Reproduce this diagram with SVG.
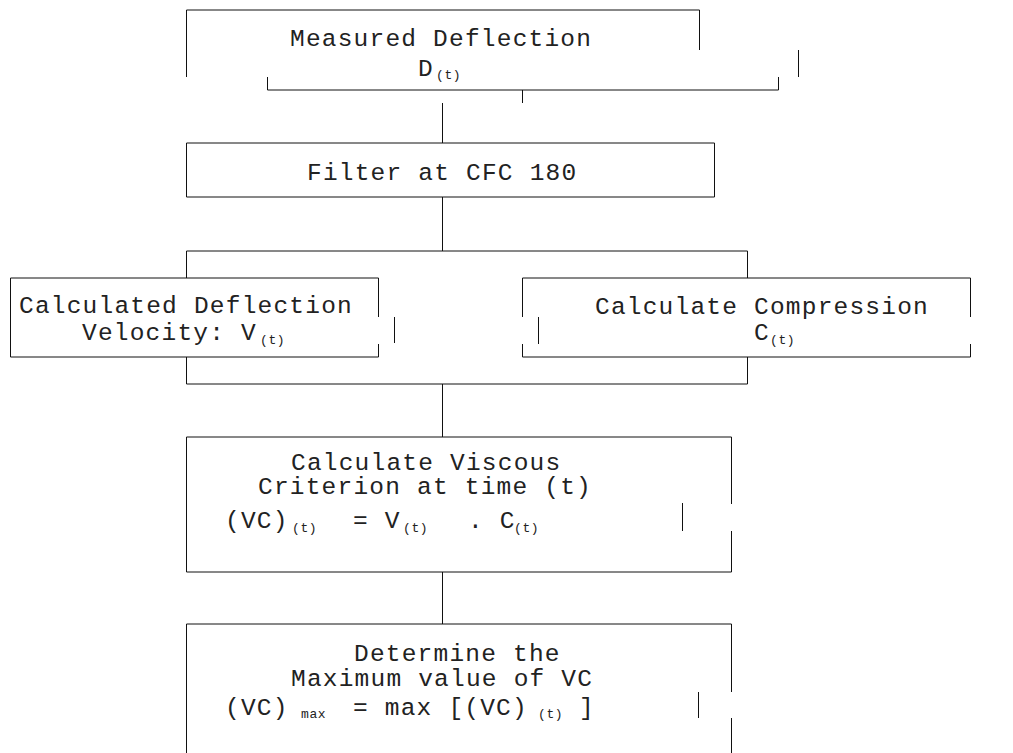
<svg xmlns="http://www.w3.org/2000/svg" width="1013" height="753" viewBox="0 0 1013 753">
  <style>
    .ln { fill: none; stroke: #111; stroke-width: 1; }
    /* 0.6em advance + spacing keeps a 15.9px monospace pitch */
    .t { font-family: "Liberation Mono", "Courier New", monospace; font-size: 24.5px; letter-spacing: 1.2px; fill: #222; }
    .s { font-family: "Liberation Mono", "Courier New", monospace; font-size: 13px; letter-spacing: 0.6px; fill: #222; }
  </style>
  <rect width="1013" height="753" fill="#fff"/>

  <!-- connectors: trunk, split and merge -->
  <g id="connectors" class="ln">
    <path d="M522.5 90 V103"/>
    <path d="M442.5 103 V143"/>
    <path d="M442.5 197 V251"/>
    <path d="M186.5 278 V251 H747.5 V278"/>
    <path d="M186.5 357 V384 H747.5 V357"/>
    <path d="M442.5 384 V437"/>
    <path d="M442.5 572 V624"/>
  </g>

  <g id="measured-deflection">
    <path class="ln" d="M186.5 77 V10 H699.5 V50"/>
    <path class="ln" d="M798.5 50 V77"/>
    <path class="ln" d="M267.5 77 V90 H778.5 V77"/>
    <text class="t" x="290" y="46">Measured Deflection</text>
    <text class="t" x="418" y="76">D</text>
    <text class="s" x="436" y="79">(t)</text>
  </g>

  <g id="filter">
    <path class="ln" d="M186.5 143 H714.5 V197 H186.5 Z"/>
    <text class="t" x="307" y="180">Filter at CFC 180</text>
  </g>

  <g id="deflection-velocity">
    <path class="ln" d="M378.5 317 V278 H10.5 V357 H378.5 V344"/>
    <path class="ln" d="M394.5 317 V343"/>
    <text class="t" x="19" y="313">Calculated Deflection</text>
    <text class="t" x="82" y="340">Velocity: V</text>
    <text class="s" x="260" y="344">(t)</text>
  </g>

  <g id="compression">
    <path class="ln" d="M522.5 317 V278 H970.5 V317"/>
    <path class="ln" d="M970.5 344 V357 H522.5 V344"/>
    <path class="ln" d="M538.5 317 V344"/>
    <text class="t" x="595" y="314">Calculate Compression</text>
    <text class="t" x="754" y="340">C</text>
    <text class="s" x="770" y="344">(t)</text>
  </g>

  <g id="viscous-criterion">
    <path class="ln" d="M731.5 504 V437 H186.5 V572 H731.5 V531"/>
    <path class="ln" d="M682.5 503 V531"/>
    <text class="t" x="291" y="470">Calculate Viscous</text>
    <text class="t" x="258" y="494">Criterion at time (t)</text>
    <text class="t" x="225" y="528">(VC)</text>
    <text class="s" x="292" y="532">(t)</text>
    <text class="t" x="353" y="528">= V</text>
    <text class="s" x="403" y="532">(t)</text>
    <text class="t" x="468" y="528">. C</text>
    <text class="s" x="514" y="532">(t)</text>
  </g>

  <g id="maximum-vc">
    <path class="ln" d="M731.5 692 V624 H186.5 V753"/>
    <path class="ln" d="M731.5 718 V753"/>
    <path class="ln" d="M698.5 692 V718"/>
    <text class="t" x="354" y="661">Determine the</text>
    <text class="t" x="291" y="686">Maximum value of VC</text>
    <text class="t" x="225" y="715">(VC)</text>
    <text class="s" x="301" y="718">max</text>
    <text class="t" x="353" y="715">= max [(VC)</text>
    <text class="s" x="538" y="718">(t)</text>
    <text class="t" x="579" y="715">]</text>
  </g>
</svg>
